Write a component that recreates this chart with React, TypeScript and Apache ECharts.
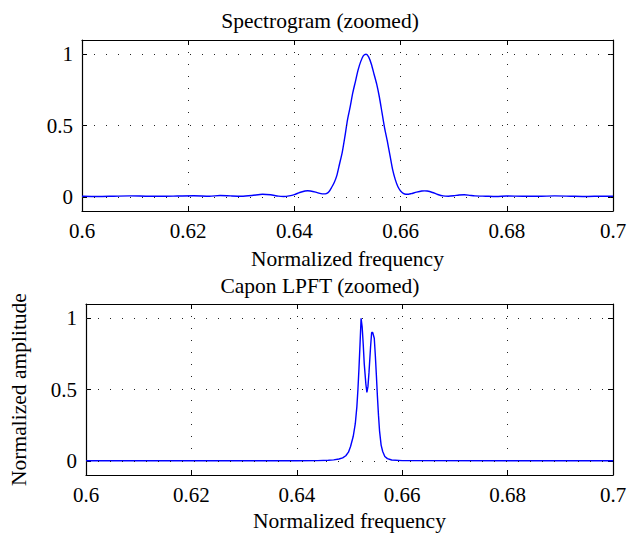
import React, { useEffect, useRef } from "react";
import * as echarts from "echarts";

// ---- Data ----
const xTickValues = [0.6, 0.62, 0.64, 0.66, 0.68, 0.7];
const yTickValues = [0, 0.5, 1];

const topTitle = "Spectrogram (zoomed)";
const bottomTitle = "Capon LPFT (zoomed)";
const xAxisName = "Normalized frequency";
const yAxisName = "Normalized amplitude";

const spectrogramFreq = [
  0.6, 0.603, 0.606, 0.609, 0.612, 0.615, 0.618, 0.621, 0.624, 0.626, 0.628,
  0.63, 0.632, 0.634, 0.6355, 0.637, 0.638, 0.639, 0.64, 0.641, 0.642, 0.6425,
  0.643, 0.644, 0.645, 0.6455, 0.646, 0.6465, 0.647, 0.6475, 0.648, 0.6485,
  0.649, 0.6495, 0.65, 0.6505, 0.651, 0.6515, 0.652, 0.6525, 0.653, 0.6535,
  0.654, 0.6545, 0.655, 0.6555, 0.656, 0.6565, 0.657, 0.6575, 0.658, 0.6585,
  0.659, 0.6595, 0.66, 0.6605, 0.661, 0.6615, 0.662, 0.663, 0.664, 0.6645,
  0.665, 0.666, 0.667, 0.668, 0.669, 0.67, 0.671, 0.672, 0.673, 0.674, 0.676,
  0.678, 0.68, 0.683, 0.686, 0.689, 0.692, 0.695, 0.698, 0.7,
];
const spectrogramAmp = [
  0.004, 0.002, 0.004, 0.006, 0.004, 0.003, 0.005, 0.007, 0.004, 0.009, 0.006,
  0.004, 0.009, 0.018, 0.014, 0.004, 0.002, 0.006, 0.015, 0.03, 0.04, 0.042,
  0.04, 0.032, 0.022, 0.02, 0.022, 0.035, 0.065, 0.1, 0.15, 0.23,
  0.31, 0.42, 0.54, 0.63, 0.73, 0.81, 0.89, 0.95, 0.99, 1.0,
  0.98, 0.93, 0.86, 0.79, 0.7, 0.59, 0.48, 0.39, 0.29, 0.19,
  0.12, 0.07, 0.04, 0.024, 0.018, 0.018, 0.022, 0.032, 0.04, 0.041,
  0.04, 0.03, 0.016, 0.006, 0.004, 0.007, 0.012, 0.014, 0.01, 0.006, 0.004,
  0.002, 0.005, 0.004, 0.003, 0.006, 0.004, 0.002, 0.004, 0.004,
];

const caponFreq = [
  0.6, 0.64, 0.644, 0.646, 0.647, 0.648, 0.6487, 0.6493, 0.6498, 0.6502,
  0.6507, 0.6511, 0.6514, 0.6516, 0.6518, 0.652, 0.6522, 0.6524, 0.6526,
  0.6528, 0.6531, 0.6533, 0.6535, 0.6537, 0.654, 0.6542, 0.6544, 0.6547,
  0.6549, 0.6551, 0.6553, 0.6555, 0.6557, 0.656, 0.6563, 0.6567, 0.6572,
  0.658, 0.66, 0.7,
];
const caponAmp = [
  0, 0, 0.001, 0.003, 0.006, 0.012, 0.02, 0.035, 0.06, 0.1,
  0.17, 0.26, 0.38, 0.5, 0.65, 0.82, 1.0, 0.94, 0.82,
  0.68, 0.54, 0.48, 0.52, 0.62, 0.8, 0.9, 0.9, 0.86,
  0.74, 0.6, 0.45, 0.32, 0.21, 0.11, 0.065, 0.03, 0.015,
  0.005, 0.001, 0,
];

const FONT = "Liberation Serif";
const BLUE = "#0000ff";
const TICK_FS = 21;
const NAME_FS = 21.5;

function zip(xs: number[], ys: number[]) {
  return xs.map((x, i) => [x, ys[i]]);
}

export default function App() {
  const ref = useRef<HTMLDivElement>(null);

  useEffect(() => {
    if (!ref.current) return;
    const chart = echarts.init(ref.current, undefined, { renderer: "svg" });

    const gridLine = { color: "#222", width: 1, type: [1, 11] as number[] };
    const grids = [
      { left: 82, right: 27, top: 40, height: 171 },
      { left: 82, right: 27, top: 304, height: 171 },
    ];
    const xMin = xTickValues[0];
    const xMax = xTickValues[xTickValues.length - 1];

    const xAxes: any[] = [];
    const yAxes: any[] = [];
    [0, 1].forEach((g) => {
      xAxes.push({
        type: "value",
        gridIndex: g,
        position: "bottom",
        min: xMin,
        max: xMax,
        interval: 0.02,
        axisLine: { show: true, onZero: false, lineStyle: { color: "#000", width: 1.2 } },
        axisTick: { show: true, inside: true, length: 5, lineStyle: { color: "#000" } },
        axisLabel: {
          show: true,
          margin: 9,
          color: "#000",
          fontFamily: FONT,
          fontSize: TICK_FS,
          formatter: (v: number) => String(Math.round(v * 100) / 100),
        },
        splitLine: { show: true, lineStyle: gridLine },
        name: xAxisName,
        nameLocation: "middle",
        nameGap: g === 0 ? 37 : 35,
        nameTextStyle: { color: "#000", fontFamily: FONT, fontSize: NAME_FS },
      });
      xAxes.push({
        type: "value",
        gridIndex: g,
        position: "top",
        min: xMin,
        max: xMax,
        interval: 0.02,
        axisLine: { show: true, onZero: false, lineStyle: { color: "#000", width: 1.2 } },
        axisTick: { show: true, inside: true, length: 5, lineStyle: { color: "#000" } },
        axisLabel: { show: false },
        splitLine: { show: false },
      });
      yAxes.push({
        type: "value",
        gridIndex: g,
        position: "left",
        min: -0.1,
        max: 1.1,
        axisLine: { show: true, onZero: false, lineStyle: { color: "#000", width: 1.2 } },
        axisTick: {
          show: true,
          inside: true,
          length: 5,
          customValues: yTickValues,
          lineStyle: { color: "#000" },
        },
        axisLabel: {
          show: true,
          margin: 9,
          color: "#000",
          fontFamily: FONT,
          fontSize: TICK_FS,
          customValues: yTickValues,
          formatter: (v: number) => String(v),
        },
        splitLine: { show: false },
        name: g === 1 ? yAxisName : "",
        nameLocation: "middle",
        nameGap: 56,
        nameRotate: 90,
        nameTextStyle: { color: "#000", fontFamily: FONT, fontSize: NAME_FS },
      });
      yAxes.push({
        type: "value",
        gridIndex: g,
        position: "right",
        min: -0.1,
        max: 1.1,
        axisLine: { show: true, onZero: false, lineStyle: { color: "#000", width: 1.2 } },
        axisTick: {
          show: true,
          inside: true,
          length: 5,
          customValues: yTickValues,
          lineStyle: { color: "#000" },
        },
        axisLabel: { show: false },
        splitLine: { show: false },
      });
    });

    const markLineFor = {
      silent: true,
      symbol: "none",
      label: { show: false },
      lineStyle: gridLine,
      data: yTickValues.map((v) => ({ yAxis: v })),
    };

    chart.setOption({
      animation: false,
      backgroundColor: "#fff",
      title: [
        {
          text: topTitle,
          left: "center",
          top: 5,
          textStyle: { color: "#000", fontFamily: FONT, fontSize: NAME_FS, fontWeight: "normal" },
        },
        {
          text: bottomTitle,
          left: "center",
          top: 270,
          textStyle: { color: "#000", fontFamily: FONT, fontSize: NAME_FS, fontWeight: "normal" },
        },
      ],
      grid: grids,
      xAxis: xAxes,
      yAxis: yAxes,
      series: [
        {
          type: "line",
          xAxisIndex: 0,
          yAxisIndex: 0,
          data: zip(spectrogramFreq, spectrogramAmp),
          showSymbol: false,
          smooth: 0.25,
          lineStyle: { color: BLUE, width: 1.4 },
          markLine: markLineFor,
          z: 3,
        },
        {
          type: "line",
          xAxisIndex: 2,
          yAxisIndex: 2,
          data: zip(caponFreq, caponAmp),
          showSymbol: false,
          lineStyle: { color: BLUE, width: 1.4 },
          markLine: markLineFor,
          z: 3,
        },
      ],
    });

    return () => chart.dispose();
  }, []);

  return (
    <div
      ref={ref}
      style={{ width: 640, height: 535, position: "absolute", left: 0, top: 0, background: "#fff" }}
    />
  );
}
